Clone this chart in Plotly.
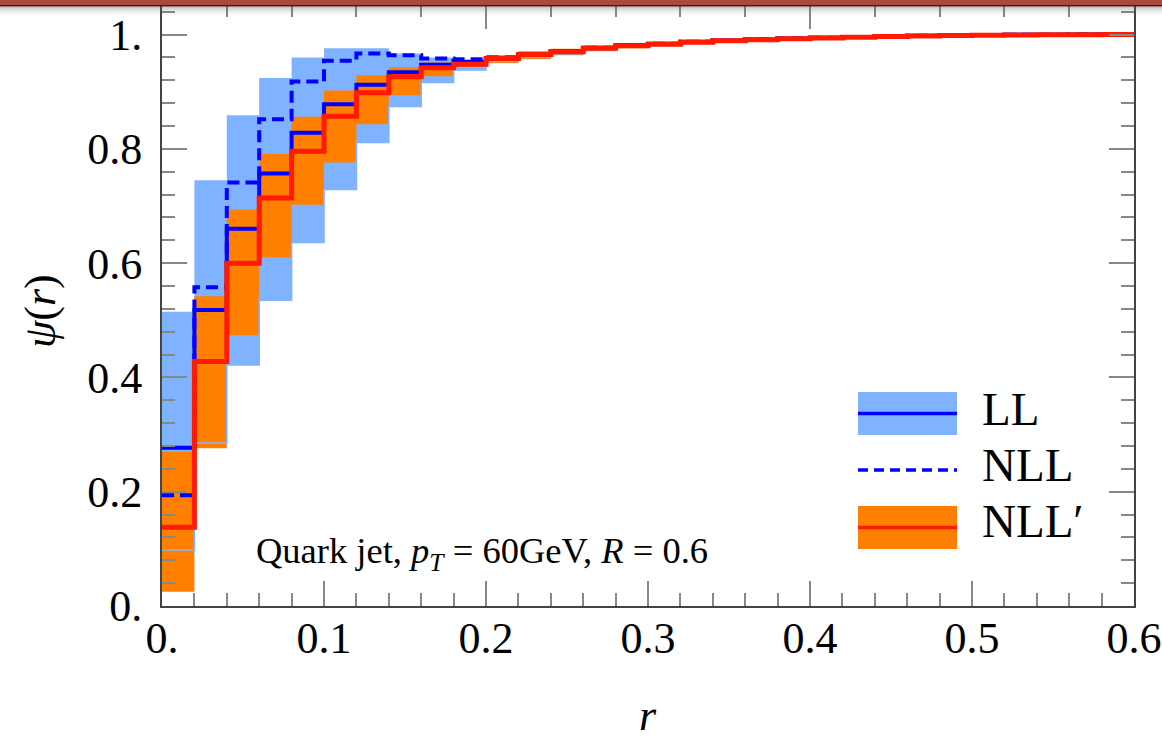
import plotly.graph_objects as go

# Bin edges of r (30 bins of width 0.02)
r_edges = [0.00, 0.02, 0.04, 0.06, 0.08, 0.10, 0.12, 0.14, 0.16, 0.18,
           0.20, 0.22, 0.24, 0.26, 0.28, 0.30, 0.32, 0.34, 0.36, 0.38,
           0.40, 0.42, 0.44, 0.46, 0.48, 0.50, 0.52, 0.54, 0.56, 0.58, 0.60]

# LL: central value and uncertainty band per bin
ll_central = [0.277, 0.518, 0.660, 0.757, 0.828, 0.878, 0.912, 0.934, 0.947, 0.952,
              0.959, 0.966, 0.971, 0.977, 0.9815, 0.984, 0.9873, 0.9896, 0.9915, 0.993,
              0.9945, 0.9958, 0.997, 0.998, 0.9987, 0.9992, 0.9995, 0.9998, 1.0, 1.0]
ll_upper = [0.515, 0.745, 0.859, 0.924, 0.960, 0.976, 0.976, 0.967, 0.960, 0.957,
            0.963, 0.969, 0.974, 0.979, 0.983, 0.9855, 0.9885, 0.9905, 0.9925, 0.9938,
            0.995, 0.9962, 0.9972, 0.9981, 0.9988, 0.9993, 0.9996, 0.9998, 1.0, 1.0]
ll_lower = [0.098, 0.285, 0.422, 0.535, 0.636, 0.729, 0.811, 0.874, 0.916, 0.938,
            0.953, 0.960, 0.966, 0.973, 0.978, 0.981, 0.985, 0.988, 0.990, 0.992,
            0.9935, 0.995, 0.9963, 0.9973, 0.9982, 0.9988, 0.9992, 0.9996, 0.9998, 1.0]

# NLL: central value
nll_central = [0.194, 0.558, 0.741, 0.852, 0.918, 0.954, 0.967, 0.964, 0.958, 0.957,
               0.960, 0.966, 0.971, 0.977, 0.9815, 0.984, 0.9873, 0.9896, 0.9915, 0.993,
               0.9945, 0.9958, 0.997, 0.998, 0.9987, 0.9992, 0.9995, 0.9998, 1.0, 1.0]

# NLL': central value and uncertainty band
nllp_central = [0.138, 0.428, 0.600, 0.714, 0.796, 0.857, 0.898, 0.926, 0.942, 0.948,
                0.958, 0.965, 0.970, 0.976, 0.9805, 0.983, 0.9865, 0.989, 0.991, 0.9925,
                0.994, 0.9955, 0.9967, 0.9977, 0.9985, 0.999, 0.9994, 0.9997, 0.9999, 1.0]
nllp_upper = [0.270, 0.542, 0.694, 0.791, 0.856, 0.902, 0.929, 0.943, 0.951, 0.953,
              0.964, 0.971, 0.975, 0.980, 0.984, 0.986, 0.989, 0.991, 0.993, 0.994,
              0.9952, 0.9963, 0.9973, 0.9982, 0.9989, 0.9993, 0.9996, 0.9998, 1.0, 1.0]
nllp_lower = [0.025, 0.276, 0.474, 0.610, 0.702, 0.776, 0.843, 0.894, 0.927, 0.944,
              0.950, 0.957, 0.964, 0.971, 0.976, 0.980, 0.984, 0.987, 0.989, 0.991,
              0.9928, 0.9945, 0.996, 0.997, 0.998, 0.9986, 0.9991, 0.9995, 0.9998, 1.0]

x_ticks = [0.0, 0.1, 0.2, 0.3, 0.4, 0.5, 0.6]
x_ticktext = ["0.", "0.1", "0.2", "0.3", "0.4", "0.5", "0.6"]
y_ticks = [0.0, 0.2, 0.4, 0.6, 0.8, 1.0]
y_ticktext = ["0.", "0.2", "0.4", "0.6", "0.8", "1."]

LIGHT_BLUE = "#80b3ff"
ORANGE = "#ff8000"
BLUE = "#0000ff"
RED = "#ff1a00"
SERIF = "Liberation Serif"

W, H = 1162, 740
ML, MR, MT, MB = 162, 28, 6, 134
PW, PH = W - ML - MR, H - MT - MB


def px(xp):
    return (xp - ML) / PW


def py(yp):
    return (H - MB - yp) / PH


def steps(vals):
    # hv step: each value holds over its bin, repeat last for the right edge
    return list(vals) + [vals[-1]]


fig = go.Figure()


def band(lower, upper, color):
    fig.add_trace(go.Scatter(x=r_edges, y=steps(lower), mode="lines",
                             line=dict(width=0, shape="hv", color=color),
                             hoverinfo="skip", showlegend=False))
    fig.add_trace(go.Scatter(x=r_edges, y=steps(upper), mode="lines",
                             line=dict(width=0, shape="hv", color=color),
                             fill="tonexty", fillcolor=color,
                             hoverinfo="skip", showlegend=False))


band(ll_lower, ll_upper, LIGHT_BLUE)
band(nllp_lower, nllp_upper, ORANGE)

# lower edge of the LL band stays visible on top of the orange band
fig.add_trace(go.Scatter(x=r_edges, y=steps(ll_lower), mode="lines",
                         line=dict(width=1.6, shape="hv", color=LIGHT_BLUE),
                         hoverinfo="skip", showlegend=False))

fig.add_trace(go.Scatter(x=r_edges, y=steps(ll_central), mode="lines", name="LL",
                         line=dict(width=4, shape="hv", color=BLUE), showlegend=False))
fig.add_trace(go.Scatter(x=r_edges, y=steps(nll_central), mode="lines", name="NLL",
                         line=dict(width=4, shape="hv", color=BLUE, dash="12px,6px"),
                         showlegend=False))
fig.add_trace(go.Scatter(x=r_edges, y=steps(nllp_central), mode="lines", name="NLL'",
                         line=dict(width=5, shape="hv", color=RED), showlegend=False))

# invisible trace to activate the top axis
fig.add_trace(go.Scatter(x=[0, 0.6], y=[0, 0], xaxis="x2", mode="lines",
                         line=dict(width=0), hoverinfo="skip", showlegend=False))

tick_font = dict(family=SERIF, size=44, color="black")

fig.update_layout(
    width=W, height=H,
    margin=dict(l=ML, r=MR, t=MT, b=MB, autoexpand=False),
    paper_bgcolor="white", plot_bgcolor="white",
    showlegend=False,
    xaxis=dict(range=[0, 0.6], showgrid=False, zeroline=False, automargin=False,
               showline=True, linecolor="#444", linewidth=2, mirror=True,
               ticks="inside", ticklen=25, tickwidth=2, tickcolor="#888",
               tickvals=x_ticks, ticktext=x_ticktext, tickfont=tick_font,
               ticklabelstandoff=-8,
               minor=dict(dtick=0.02, ticks="inside", ticklen=13, tickwidth=2,
                          tickcolor="#888", showgrid=False)),
    xaxis2=dict(range=[0, 0.6], overlaying="x", side="top", showgrid=False,
                zeroline=False, showticklabels=False, automargin=False,
                ticks="inside", ticklen=23, tickwidth=2, tickcolor="#888",
                tick0=0, dtick=0.2,
                minor=dict(dtick=0.04, ticks="inside", ticklen=11, tickwidth=2,
                           tickcolor="#888", showgrid=False)),
    yaxis=dict(range=[0, 1.05], showgrid=False, zeroline=False, automargin=False,
               showline=True, linecolor="#444", linewidth=2, mirror="ticks",
               ticks="inside", ticklen=25, tickwidth=2, tickcolor="#888",
               tickvals=y_ticks, ticktext=y_ticktext, tickfont=tick_font,
               ticklabelstandoff=9,
               minor=dict(dtick=0.04, ticks="inside", ticklen=13, tickwidth=2,
                          tickcolor="#888", showgrid=False)),
)

annotations = [
    dict(text="<i>r</i>", x=px(648), y=py(715), xref="paper", yref="paper",
         showarrow=False, font=dict(family=SERIF, size=44, color="black"),
         xanchor="center", yanchor="middle"),
    dict(text="<i>ψ</i>(<i>r</i>)", x=px(40), y=py(311), xref="paper", yref="paper",
         showarrow=False, textangle=-90, font=dict(family=SERIF, size=44, color="black"),
         xanchor="center", yanchor="middle"),
    dict(text="Quark jet, <i>p</i><sub><i>T</i></sub> = 60GeV, <i>R</i> = 0.6",
         x=px(482), y=py(553), xref="paper", yref="paper", showarrow=False,
         font=dict(family=SERIF, size=36.5, color="black"),
         xanchor="center", yanchor="middle"),
    dict(text="LL", x=px(980), y=py(409), xref="paper", yref="paper", showarrow=False,
         font=dict(family=SERIF, size=47, color="black"), xanchor="left", yanchor="middle"),
    dict(text="NLL", x=px(980), y=py(465), xref="paper", yref="paper", showarrow=False,
         font=dict(family=SERIF, size=47, color="black"), xanchor="left", yanchor="middle"),
    dict(text="NLL′", x=px(980), y=py(521), xref="paper", yref="paper", showarrow=False,
         font=dict(family=SERIF, size=47, color="black"), xanchor="left", yanchor="middle"),
]

shapes = [
    # legend keys
    dict(type="rect", xref="paper", yref="paper", x0=px(858), x1=px(957),
         y0=py(435), y1=py(392), fillcolor=LIGHT_BLUE, line=dict(width=0)),
    dict(type="line", xref="paper", yref="paper", x0=px(858), x1=px(957),
         y0=py(413.5), y1=py(413.5), line=dict(color=BLUE, width=3.5)),
    dict(type="line", xref="paper", yref="paper", x0=px(858), x1=px(957),
         y0=py(470), y1=py(470), line=dict(color=BLUE, width=3.5, dash="10px,6px")),
    dict(type="rect", xref="paper", yref="paper", x0=px(858), x1=px(957),
         y0=py(549), y1=py(506), fillcolor=ORANGE, line=dict(width=0)),
    dict(type="line", xref="paper", yref="paper", x0=px(858), x1=px(957),
         y0=py(527.5), y1=py(527.5), line=dict(color=RED, width=3.5)),
    # banner strip along the top edge
    dict(type="rect", xref="paper", yref="paper", x0=px(0), x1=px(W),
         y0=py(5), y1=py(0), fillcolor="#ab4a3c", line=dict(width=0), layer="above"),
    dict(type="rect", xref="paper", yref="paper", x0=px(0), x1=px(W),
         y0=py(6.5), y1=py(5), fillcolor="#2e1f1c", line=dict(width=0), layer="above"),
]
shade = [0.35, 0.25, 0.17, 0.11, 0.06, 0.03]
for i, a in enumerate(shade):
    shapes.append(dict(type="rect", xref="paper", yref="paper", x0=px(0), x1=px(W),
                       y0=py(6.5 + (i + 1) * 1.5), y1=py(6.5 + i * 1.5),
                       fillcolor=f"rgba(90,90,90,{a})", line=dict(width=0), layer="above"))

fig.update_layout(annotations=annotations, shapes=shapes)

fig.write_html("out.html")
